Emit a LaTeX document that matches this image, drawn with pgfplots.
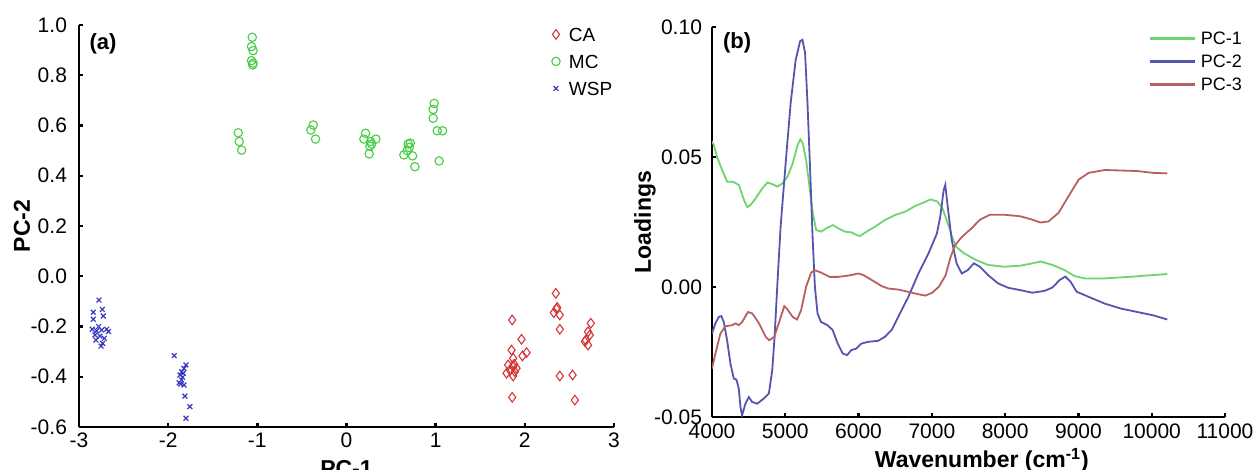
\documentclass[border=0pt]{standalone}
\usepackage{fontspec}
\setmainfont{Liberation Sans}
\usepackage{pgfplots}
\pgfplotsset{compat=1.18}
\usepackage{pgfplotstable}

\definecolor{cared}{RGB}{212,55,55}
\definecolor{mcgreen}{RGB}{70,205,70}
\definecolor{wspblue}{RGB}{55,55,195}
\definecolor{pcgreen}{RGB}{110,212,110}
\definecolor{pcblue}{RGB}{85,85,175}
\definecolor{pcred}{RGB}{185,95,95}

\pgfplotstableread{
x y
1.858 -0.174
1.963 -0.251
2.019 -0.304
1.974 -0.317
1.851 -0.294
1.869 -0.327
1.813 -0.353
1.869 -0.360
1.907 -0.366
1.832 -0.373
1.888 -0.380
1.795 -0.386
1.869 -0.397
1.880 -0.350
1.858 -0.482
2.347 -0.068
2.362 -0.124
2.325 -0.145
2.392 -0.154
2.355 -0.130
2.392 -0.211
2.392 -0.397
2.535 -0.393
2.561 -0.493
2.740 -0.187
2.709 -0.221
2.729 -0.234
2.684 -0.254
2.709 -0.274
2.673 -0.260
}\tabCA

\pgfplotstableread{
x y
-1.057 0.951
-1.065 0.914
-1.048 0.898
-1.065 0.858
-1.048 0.848
-1.052 0.841
-1.214 0.571
-1.203 0.536
-1.176 0.502
-0.373 0.602
-0.400 0.582
-0.347 0.546
0.214 0.569
0.195 0.546
0.270 0.536
0.330 0.546
0.262 0.518
0.254 0.487
0.281 0.526
0.692 0.526
0.703 0.513
0.643 0.483
0.741 0.479
0.767 0.436
0.681 0.500
0.715 0.530
0.983 0.688
0.972 0.664
0.972 0.629
1.017 0.579
1.077 0.579
1.039 0.459
}\tabMC

\pgfplotstableread{
x y
-2.776 -0.095
-2.840 -0.143
-2.739 -0.132
-2.728 -0.158
-2.840 -0.171
-2.851 -0.211
-2.802 -0.217
-2.746 -0.214
-2.690 -0.211
-2.821 -0.234
-2.765 -0.238
-2.716 -0.247
-2.810 -0.254
-2.735 -0.267
-2.753 -0.278
-2.670 -0.220
-2.780 -0.200
-1.932 -0.316
-1.800 -0.353
-1.823 -0.367
-1.849 -0.380
-1.868 -0.393
-1.838 -0.402
-1.876 -0.424
-1.823 -0.433
-1.849 -0.413
-1.812 -0.477
-1.756 -0.519
-1.800 -0.565
-1.860 -0.429
-1.831 -0.386
}\tabWSP

\pgfplotstableread{
x y
4000 0.0560
4023 0.0547
4069 0.0500
4138 0.0450
4206 0.0405
4275 0.0405
4321 0.0400
4367 0.0392
4390 0.0373
4436 0.0335
4482 0.0307
4528 0.0316
4596 0.0341
4688 0.0380
4757 0.0402
4826 0.0395
4894 0.0386
4963 0.0399
5032 0.0425
5101 0.0476
5170 0.0547
5206 0.0568
5239 0.0553
5284 0.0489
5330 0.0386
5376 0.0283
5422 0.0219
5491 0.0213
5560 0.0226
5651 0.0238
5720 0.0226
5812 0.0213
5904 0.0210
5972 0.0200
6018 0.0196
6110 0.0213
6225 0.0232
6362 0.0258
6500 0.0277
6638 0.0290
6775 0.0312
6890 0.0325
6982 0.0337
7073 0.0329
7142 0.0305
7211 0.0250
7280 0.0190
7330 0.0155
7436 0.0130
7601 0.0104
7766 0.0085
7986 0.0078
8206 0.0082
8371 0.0091
8481 0.0098
8645 0.0085
8810 0.0065
8948 0.0042
9085 0.0033
9360 0.0033
9745 0.0040
10212 0.0050
}\tabPCa

\pgfplotstableread{
x y
4000 -0.0179
4046 -0.0140
4092 -0.0115
4128 -0.0112
4160 -0.0134
4206 -0.0205
4251 -0.0294
4297 -0.0352
4333 -0.0356
4365 -0.0390
4388 -0.0461
4410 -0.0494
4456 -0.0449
4502 -0.0423
4547 -0.0442
4616 -0.0449
4707 -0.0429
4776 -0.0410
4822 -0.0320
4854 -0.0192
4890 0.0001
4936 0.0232
5005 0.0476
5073 0.0707
5142 0.0874
5202 0.0945
5234 0.0951
5270 0.0900
5303 0.0707
5339 0.0450
5372 0.0194
5404 0.0001
5440 -0.0102
5486 -0.0134
5578 -0.0147
5647 -0.0166
5716 -0.0218
5784 -0.0256
5844 -0.0262
5899 -0.0243
5968 -0.0237
6037 -0.0218
6128 -0.0211
6266 -0.0207
6358 -0.0192
6450 -0.0166
6564 -0.0102
6679 -0.0038
6817 0.0052
6954 0.0129
7069 0.0206
7115 0.0271
7161 0.0373
7183 0.0393
7216 0.0310
7271 0.0181
7337 0.0091
7408 0.0052
7491 0.0065
7573 0.0091
7656 0.0078
7766 0.0046
7903 0.0014
8041 -0.0003
8206 -0.0012
8371 -0.0022
8536 -0.0015
8645 -0.0002
8744 0.0027
8821 0.0040
8893 0.0020
8975 -0.0018
9140 -0.0038
9360 -0.0064
9580 -0.0083
9800 -0.0096
10020 -0.0109
10212 -0.0125
}\tabPCb

\pgfplotstableread{
x y
4000 -0.0314
4046 -0.0256
4115 -0.0179
4183 -0.0151
4275 -0.0147
4321 -0.0140
4367 -0.0147
4413 -0.0134
4491 -0.0096
4550 -0.0102
4642 -0.0140
4734 -0.0192
4780 -0.0205
4849 -0.0192
4917 -0.0134
4986 -0.0074
5032 -0.0087
5101 -0.0115
5161 -0.0125
5216 -0.0089
5284 0.0001
5353 0.0055
5399 0.0065
5491 0.0055
5605 0.0039
5720 0.0039
5812 0.0042
5904 0.0046
5995 0.0052
6064 0.0046
6179 0.0027
6317 0.0003
6408 -0.0006
6546 -0.0010
6683 -0.0019
6817 -0.0028
6913 -0.0033
7005 -0.0022
7096 0.0001
7188 0.0045
7250 0.0110
7315 0.0160
7400 0.0190
7546 0.0227
7656 0.0259
7793 0.0278
7986 0.0278
8206 0.0272
8371 0.0259
8481 0.0248
8591 0.0252
8728 0.0285
8865 0.0349
9003 0.0413
9140 0.0439
9360 0.0450
9580 0.0448
9800 0.0446
10020 0.0439
10212 0.0437
}\tabPCc

\pgfplotsset{
  myaxis/.style={
    scale only axis,
    axis lines=left,
    axis line style={-, line width=1.3pt, black},
    tick style={black, line width=1.2pt},
    major tick length=2.2pt,
    tick align=inside,
    /pgf/number format/assume math mode=true,
    ticklabel style={font=\fontsize{10.5}{12}\selectfont},
    label style={font=\fontsize{11.5}{13}\bfseries\selectfont},
  }
}

\begin{document}
\begin{tikzpicture}
\useasboundingbox (0,0) rectangle (629pt,235pt);

% ---------------- (a) scores ----------------
\begin{axis}[
  myaxis,
  at={(39.5pt,21.5pt)}, anchor=south west,
  width=267.5pt, height=201pt,
  xmin=-3, xmax=3, ymin=-0.6, ymax=1.0,
  xtick={-3,-2,-1,0,1,2,3},
  ytick={-0.6,-0.4,-0.2,0,0.2,0.4,0.6,0.8,1.0},
  yticklabel style={xshift=-2.5pt, /pgf/number format/fixed, /pgf/number format/fixed zerofill, /pgf/number format/precision=1},
  xticklabel style={yshift=0.5pt},
  xlabel={PC-1}, ylabel={PC-2},
  xlabel style={at={(axis description cs:0.5,-0.104)}, anchor=center},
  ylabel style={at={(axis description cs:-0.1065,0.5)}, anchor=center},
  legend style={at={(0.874,1.0)}, anchor=north west, draw=none, fill=none,
    inner sep=0pt, row sep=4.5pt, font=\fontsize{9.5}{11}\selectfont,
    nodes={inner sep=1pt, text height=7pt, text depth=0pt}},
  legend cell align=left,
  legend image code/.code={\path[draw=none] (0pt,0pt) (10pt,0pt); \draw[mark repeat=2,mark phase=2,#1] plot coordinates {(0pt,0pt) (4.5pt,0pt) (9pt,0pt)};},
]
\addplot[only marks, mark=diamond, mark size=2.4pt, cared, mark options={line width=0.55pt}] table[x=x,y=y] {\tabCA};
\addlegendentry{CA}
\addplot[only marks, mark=o, mark size=2.1pt, mcgreen, mark options={line width=0.55pt}] table[x=x,y=y] {\tabMC};
\addlegendentry{MC}
\addplot[only marks, mark=x, mark size=1.7pt, wspblue, mark options={line width=0.6pt}] table[x=x,y=y] {\tabWSP};
\addlegendentry{WSP}
\node[font=\fontsize{11}{13}\bfseries\selectfont] at (rel axis cs:0.045,0.953) {(a)};
\end{axis}

% ---------------- (b) loadings ----------------
\begin{axis}[
  myaxis,
  at={(356pt,26.5pt)}, anchor=south west,
  width=256.5pt, height=195pt,
  xmin=4000, xmax=11000, ymin=-0.05, ymax=0.10,
  scaled x ticks=false,
  xtick={4000,5000,6000,7000,8000,9000,10000,11000},
  ytick={-0.05,0,0.05,0.10},
  xticklabel style={yshift=0pt, /pgf/number format/1000 sep={}},
  yticklabel style={xshift=-1.5pt, /pgf/number format/fixed, /pgf/number format/fixed zerofill, /pgf/number format/precision=2},
  xlabel={Wavenumber (cm\textsuperscript{-1})}, ylabel={Loadings},
  xlabel style={at={(axis description cs:0.526,-0.111)}, anchor=center},
  ylabel style={at={(axis description cs:-0.1306,0.5)}, anchor=center},
  legend style={at={(0.85,0.9936)}, anchor=north west, draw=none, fill=none,
    inner sep=0pt, row sep=3pt, font=\fontsize{9}{11}\selectfont,
    nodes={inner sep=1pt, text height=6.5pt, text depth=0pt}},
  legend cell align=left,
  legend image code/.code={\draw[#1, line width=1.3pt] (0pt,0pt) -- (22.5pt,0pt); \path[draw=none] (24.5pt,0pt);},
]
\addplot[pcgreen, line width=0.9pt] table[x=x,y=y] {\tabPCa};
\addlegendentry{PC-1}
\addplot[pcblue, line width=0.9pt] table[x=x,y=y] {\tabPCb};
\addlegendentry{PC-2}
\addplot[pcred, line width=0.9pt] table[x=x,y=y] {\tabPCc};
\addlegendentry{PC-3}
\node[font=\fontsize{11}{13}\bfseries\selectfont] at (rel axis cs:0.049,0.959) {(b)};
\end{axis}
\end{tikzpicture}
\end{document}
